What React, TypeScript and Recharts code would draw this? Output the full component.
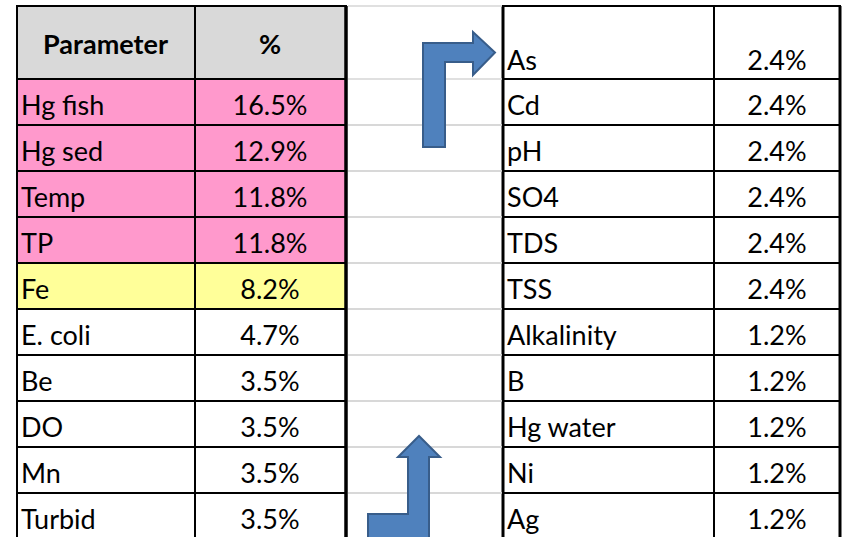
import { Bar, BarChart, XAxis, YAxis } from "recharts";

// left block (continued on the right, as the arrows show)
const HEADERS = ["Parameter", "%"];
const LEFT_PARAMS = ["Hg fish", "Hg sed", "Temp", "TP", "Fe", "E. coli", "Be", "DO", "Mn", "Turbid"];
const LEFT_PCT = [16.5, 12.9, 11.8, 11.8, 8.2, 4.7, 3.5, 3.5, 3.5, 3.5];
const LEFT_MARK = ["pink", "pink", "pink", "pink", "yellow", "", "", "", "", ""];
const RIGHT_PARAMS = ["As", "Cd", "pH", "SO4", "TDS", "TSS", "Alkalinity", "B", "Hg water", "Ni", "Ag"];
const RIGHT_PCT = [2.4, 2.4, 2.4, 2.4, 2.4, 2.4, 1.2, 1.2, 1.2, 1.2, 1.2];

const rows = LEFT_PARAMS.map((name, i) => ({
  name,
  pct: LEFT_PCT[i],
  mark: LEFT_MARK[i],
  right: RIGHT_PARAMS[i + 1],
  rightPct: RIGHT_PCT[i + 1],
}));

const FONT = "Lato, 'DejaVu Sans', sans-serif";
const FS = 27;
const FILLS: Record<string, string> = { pink: "#ff99cc", yellow: "#ffff99" };
const HEADER_FILL = "#d9d9d9";
const GRID = "#d6d6d6";
const ARROW = "#4f81bd";
const ARROW_EDGE = "#385d8a";
const HEADER_H = 73;
// column edges, measured from the plot's left edge
const COL = { lDiv: 179, lEnd: 329, rStart: 486, rDiv: 698, rEnd: 824 };

const pct = (v: number) => `${v.toFixed(1)}%`;

function Verticals({ x0, y, h }: { x0: number; y: number; h: number }) {
  const v = (x: number, w: number) => <line x1={x} x2={x} y1={y} y2={y + h} stroke="#000" strokeWidth={w} />;
  return (
    <g>
      {v(x0 + 1, 2)}
      {v(x0 + COL.lDiv, 2)}
      {v(x0 + COL.lEnd + 1, 3.5)}
      {v(x0 + COL.rStart + 1, 3)}
      {v(x0 + COL.rDiv, 2)}
      {v(x0 + COL.rEnd, 3)}
    </g>
  );
}

function RowShape(props: any) {
  const { y, height: h, index, payload, background } = props;
  const x0 = background.x;
  const base = y + h - 10;
  const hline = (yy: number) => (
    <g>
      <line x1={x0} x2={x0 + COL.lEnd + 2} y1={yy} y2={yy} stroke="#000" strokeWidth={2} />
      <line x1={x0 + COL.lEnd + 3} x2={x0 + COL.rStart} y1={yy} y2={yy} stroke={GRID} strokeWidth={1.5} />
      <line x1={x0 + COL.rStart} x2={x0 + COL.rEnd + 1} y1={yy} y2={yy} stroke="#000" strokeWidth={2} />
    </g>
  );
  const txt = { fontFamily: FONT, fontSize: FS, fill: "#000" };

  let header = null;
  if (index === 0) {
    const y0 = y - HEADER_H;
    header = (
      <g>
        <rect x={x0} y={y0} width={COL.lEnd} height={HEADER_H} fill={HEADER_FILL} />
        <Verticals x0={x0} y={y0} h={HEADER_H} />
        {hline(y0)}
        <text x={x0 + COL.lDiv / 2} y={y - 25} textAnchor="middle" fontWeight="bold" {...txt}>{HEADERS[0]}</text>
        <text x={x0 + (COL.lDiv + COL.lEnd) / 2} y={y - 25} textAnchor="middle" fontWeight="bold" {...txt}>{HEADERS[1]}</text>
        <text x={x0 + COL.rStart + 5} y={y - 9} {...txt}>{RIGHT_PARAMS[0]}</text>
        <text x={x0 + (COL.rDiv + COL.rEnd) / 2} y={y - 9} textAnchor="middle" {...txt}>{pct(RIGHT_PCT[0])}</text>
      </g>
    );
  }

  let arrows = null;
  if (index === rows.length - 1) {
    const top = y - index * h - HEADER_H;
    const upRight = [
      [407, 141], [407, 37], [457, 37], [457, 26], [479, 46.5], [457, 69], [457, 56], [429, 56], [429, 141],
    ].map(([a, b]) => `${x0 + a},${top + b}`).join(" ");
    const upBent = [
      [352, 47], [352, 21], [392, 21], [392, -36], [382, -36], [403, -57], [424, -36], [413, -36], [413, 47],
    ].map(([a, b]) => `${x0 + a},${y + b}`).join(" ");
    arrows = (
      <g>
        <polygon points={upRight} fill={ARROW} stroke={ARROW_EDGE} strokeWidth={2} />
        <polygon points={upBent} fill={ARROW} stroke={ARROW_EDGE} strokeWidth={2} />
      </g>
    );
  }

  return (
    <g>
      {header}
      {payload.mark && <rect x={x0} y={y} width={COL.lEnd} height={h} fill={FILLS[payload.mark]} />}
      <Verticals x0={x0} y={y} h={h} />
      {hline(y)}
      {hline(y + h)}
      <text x={x0 + 5} y={base} {...txt}>{payload.name}</text>
      <text x={x0 + (COL.lDiv + COL.lEnd) / 2} y={base} textAnchor="middle" {...txt}>{pct(payload.pct)}</text>
      <text x={x0 + COL.rStart + 5} y={base} {...txt}>{payload.right}</text>
      <text x={x0 + (COL.rDiv + COL.rEnd) / 2} y={base} textAnchor="middle" {...txt}>{pct(payload.rightPct)}</text>
      {arrows}
    </g>
  );
}

export default function App() {
  return (
    <div style={{ position: "absolute", left: 0, top: 0, width: 844, height: 537, overflow: "hidden", background: "#fff" }}>
      <BarChart
        width={844}
        height={545}
        data={rows}
        layout="vertical"
        barCategoryGap={0}
        margin={{ top: 79, right: 4, bottom: 6, left: 16 }}
      >
        <XAxis type="number" hide domain={[0, 20]} />
        <YAxis type="category" dataKey="name" hide />
        <Bar dataKey="pct" isAnimationActive={false} shape={RowShape} />
      </BarChart>
    </div>
  );
}
